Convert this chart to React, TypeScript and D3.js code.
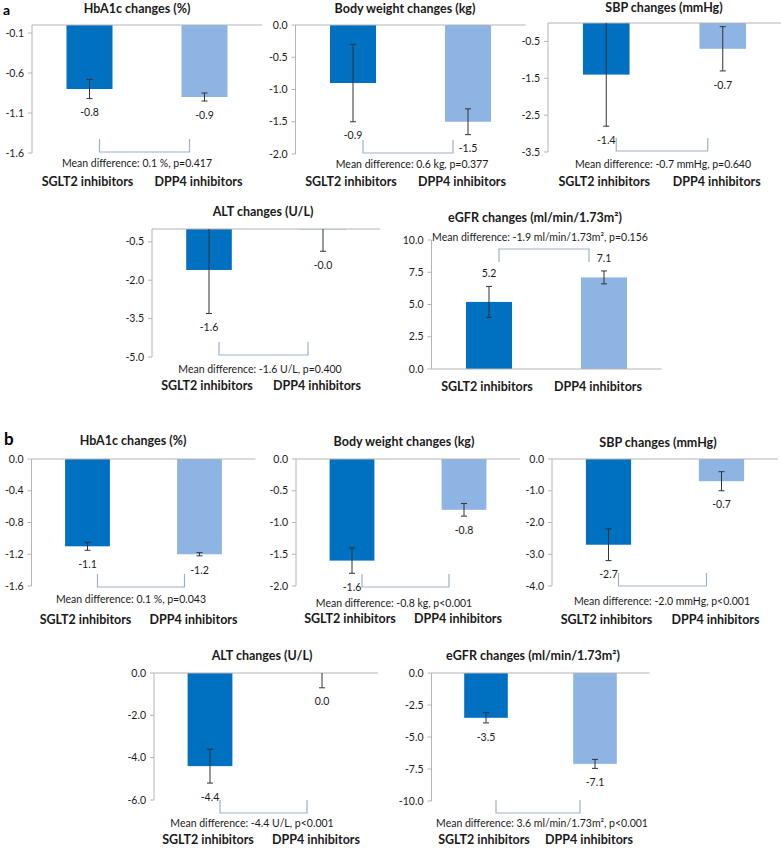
import { useEffect, useRef } from 'react';
import * as d3 from 'd3';

const width = 781;
const height = 849;

// 그룹 / 색상
const groups = ['SGLT2 inhibitors', 'DPP4 inhibitors'];
const colors = ['#0070C0', '#8EB4E3'];

const titles = [
    'HbA1c changes (%)',
    'Body weight changes (kg)',
    'SBP changes (mmHg)',
    'ALT changes (U/L)',
    'eGFR changes (ml/min/1.73m²)'
];

// panel a
const domainsA = [[-1.6, 0], [-2, 0], [-3.5, 0], [-5, 0], [0, 10]];
const ticksA = [
    [-0.1, -0.6, -1.1, -1.6],
    [0, -0.5, -1, -1.5, -2],
    [-0.5, -1.5, -2.5, -3.5],
    [-0.5, -2, -3.5, -5],
    [10, 7.5, 5, 2.5, 0]
];
const meansA = [[-0.8, -0.9], [-0.9, -1.5], [-1.4, -0.7], [-1.6, -0.02], [5.2, 7.1]];
const errorsA = [[0.12, 0.05], [0.6, 0.2], [1.4, 0.6], [1.7, 0.85], [1.2, 0.5]];
const diffsA = [
    'Mean difference: 0.1 %, p=0.417',
    'Mean difference: 0.6 kg, p=0.377',
    'Mean difference: -0.7 mmHg, p=0.640',
    'Mean difference: -1.6 U/L, p=0.400',
    'Mean difference: -1.9 ml/min/1.73m², p=0.156'
];

// panel b
const domainsB = [[-1.6, 0], [-2, 0], [-4, 0], [-6, 0], [-10, 0]];
const ticksB = [
    [0, -0.4, -0.8, -1.2, -1.6],
    [0, -0.5, -1, -1.5, -2],
    [0, -1, -2, -3, -4],
    [0, -2, -4, -6],
    [0, -2.5, -5, -7.5, -10]
];
const meansB = [[-1.1, -1.2], [-1.6, -0.8], [-2.7, -0.7], [-4.4, 0.0], [-3.5, -7.1]];
const errorsB = [[0.05, 0.02], [0.2, 0.1], [0.5, 0.3], [0.8, 0.7], [0.4, 0.35]];
const diffsB = [
    'Mean difference: 0.1 %, p=0.043',
    'Mean difference: -0.8 kg, p<0.001',
    'Mean difference: -2.0 mmHg, p<0.001',
    'Mean difference: -4.4 U/L, p<0.001',
    'Mean difference: 3.6 ml/min/1.73m², p<0.001'
];

// 레이아웃 (픽셀)
type Layout = {
    left: number; width: number; top: number; bottom: number;
    titleX: number; titleY: number; diffX: number; diffY: number; catY: number;
    bracketY: number; bracketDown?: boolean;
};

const layoutA: Layout[] = [
    { left: 32, width: 230, top: 25, bottom: 153, titleX: 137, titleY: 9, diffX: 137, diffY: 163, catY: 182, bracketY: 152 },
    { left: 295.5, width: 230, top: 25, bottom: 154, titleX: 405, titleY: 9, diffX: 412, diffY: 164, catY: 182, bracketY: 153 },
    { left: 548, width: 233, top: 23, bottom: 152, titleX: 664, titleY: 8, diffX: 663, diffY: 164, catY: 182, bracketY: 151 },
    { left: 152, width: 228, top: 229, bottom: 357, titleX: 263, titleY: 212, diffX: 260, diffY: 369, catY: 386, bracketY: 355 },
    { left: 431.5, width: 230, top: 240, bottom: 369, titleX: 535, titleY: 218, diffX: 540, diffY: 237, catY: 387, bracketY: 249, bracketDown: true }
];

const layoutB: Layout[] = [
    { left: 31.5, width: 224, top: 459, bottom: 586, titleX: 133, titleY: 441, diffX: 131, diffY: 599, catY: 620, bracketY: 587 },
    { left: 296, width: 224, top: 459, bottom: 586, titleX: 404, titleY: 442, diffX: 394, diffY: 603, catY: 619, bracketY: 587 },
    { left: 552, width: 226, top: 459, bottom: 586, titleX: 658, titleY: 443, diffX: 662, diffY: 601, catY: 620, bracketY: 586 },
    { left: 154, width: 224, top: 673, bottom: 800, titleX: 262, titleY: 656, diffX: 252, diffY: 823, catY: 840, bracketY: 813 },
    { left: 431.5, width: 218, top: 673, bottom: 801, titleX: 533, titleY: 656, diffX: 542, diffY: 823, catY: 840, bracketY: 813 }
];

const font = 'Lato, "Open Sans", sans-serif';
const axisColor = '#B4B4B4';
const textColor = '#1a1a1a';

function drawPanel(
    svg: d3.Selection<SVGSVGElement, unknown, null, undefined>,
    lay: Layout,
    title: string,
    domain: number[],
    ticks: number[],
    means: number[],
    errs: number[],
    diff: string
) {
    const g = svg.append('g');
    const [dMin, dMax] = domain;

    const x = d3.scaleBand<string>().domain(groups).range([lay.left, lay.left + lay.width]).paddingInner(0.6).paddingOuter(0.3);
    const y = d3.scaleLinear().domain(domain).range([lay.bottom, lay.top]);
    const clamp = (v: number) => Math.max(dMin, Math.min(dMax, v));

    // 제목
    g.append('text')
        .attr('x', lay.titleX)
        .attr('y', lay.titleY)
        .attr('dy', '0.35em')
        .attr('text-anchor', 'middle')
        .attr('font-weight', 'bold')
        .attr('font-size', 12.5)
        .attr('fill', textColor)
        .text(title);

    // 막대
    g.selectAll('rect.bar')
        .data(means)
        .join('rect')
        .attr('class', 'bar')
        .attr('x', (_d, i) => x(groups[i]) as number)
        .attr('width', x.bandwidth())
        .attr('y', (d) => Math.min(y(0), y(d)))
        .attr('height', (d) => Math.abs(y(d) - y(0)))
        .attr('fill', (_d, i) => colors[i]);

    // y축
    g.append('line')
        .attr('x1', lay.left).attr('x2', lay.left)
        .attr('y1', lay.top).attr('y2', lay.bottom)
        .attr('stroke', axisColor);
    g.selectAll('line.tick')
        .data(ticks)
        .join('line')
        .attr('class', 'tick')
        .attr('x1', lay.left - 4).attr('x2', lay.left)
        .attr('y1', (d) => y(d)).attr('y2', (d) => y(d))
        .attr('stroke', axisColor);
    g.selectAll('text.tick')
        .data(ticks)
        .join('text')
        .attr('class', 'tick')
        .attr('x', lay.left - 8)
        .attr('y', (d) => y(d))
        .attr('dy', '0.35em')
        .attr('text-anchor', 'end')
        .attr('font-size', 10.5)
        .attr('fill', textColor)
        .text((d) => d.toFixed(1));

    // x축 (0 라인)
    g.append('line')
        .attr('x1', lay.left).attr('x2', lay.left + lay.width)
        .attr('y1', y(0)).attr('y2', y(0))
        .attr('stroke', axisColor);

    // 에러바
    means.forEach((m, i) => {
        const cx = (x(groups[i]) as number) + x.bandwidth() / 2;
        const lo = m - errs[i];
        const hi = m + errs[i];
        g.append('line')
            .attr('x1', cx).attr('x2', cx)
            .attr('y1', y(clamp(hi))).attr('y2', y(clamp(lo)))
            .attr('stroke', '#333');
        [lo, hi].forEach((v) => {
            if (v >= dMax - 1e-9 || v <= dMin + 1e-9) return;
            g.append('line')
                .attr('x1', cx - 3).attr('x2', cx + 3)
                .attr('y1', y(v)).attr('y2', y(v))
                .attr('stroke', '#333');
        });
        // 값 라벨
        const ly = m > 0 ? y(clamp(hi)) - 13 : y(clamp(lo)) + 14;
        g.append('text')
            .attr('x', cx)
            .attr('y', ly)
            .attr('dy', '0.35em')
            .attr('text-anchor', 'middle')
            .attr('font-size', 10.5)
            .attr('fill', textColor)
            .text(m.toFixed(1));
    });

    // 브래킷
    const c1 = (x(groups[0]) as number) + x.bandwidth() / 2;
    const c2 = (x(groups[1]) as number) + x.bandwidth() / 2;
    const bx1 = c1 + 10;
    const bx2 = c2 - 15;
    const by = lay.bracketY;
    const bh = lay.bracketDown ? 13 : -13;
    g.append('path')
        .attr('d', `M${bx1},${by + bh}V${by}H${bx2}V${by + bh}`)
        .attr('fill', 'none')
        .attr('stroke', '#9DB0C6')
        .attr('stroke-width', 1.2);

    // 평균 차이
    g.append('text')
        .attr('x', lay.diffX)
        .attr('y', lay.diffY)
        .attr('dy', '0.35em')
        .attr('text-anchor', 'middle')
        .attr('font-size', 10.5)
        .attr('fill', textColor)
        .text(diff);

    // 카테고리 라벨
    g.selectAll('text.cat')
        .data(groups)
        .join('text')
        .attr('class', 'cat')
        .attr('x', (d, i) => (x(d) as number) + x.bandwidth() / 2 + (i === 0 ? -2 : -6))
        .attr('y', lay.catY)
        .attr('dy', '0.35em')
        .attr('text-anchor', 'middle')
        .attr('font-weight', 'bold')
        .attr('font-size', 12.5)
        .attr('fill', textColor)
        .text((d) => d);
}

export default function App() {
    const ref = useRef<SVGSVGElement>(null);

    useEffect(() => {
        document.body.style.margin = '0';
        const svg = d3.select(ref.current as SVGSVGElement);
        svg.selectAll('*').remove();

        svg.append('rect').attr('width', width).attr('height', height).attr('fill', '#fff');

        titles.forEach((t, i) => {
            drawPanel(svg, layoutA[i], t, domainsA[i], ticksA[i], meansA[i], errorsA[i], diffsA[i]);
            drawPanel(svg, layoutB[i], t, domainsB[i], ticksB[i], meansB[i], errorsB[i], diffsB[i]);
        });

        // 패널 라벨
        svg.append('text').attr('x', 3).attr('y', 15).attr('font-weight', 'bold').attr('font-size', 14).attr('fill', '#000').text('a');
        svg.append('text').attr('x', 4).attr('y', 445).attr('font-weight', 'bold').attr('font-size', 17).attr('fill', '#000').text('b');
    }, []);

    return <svg ref={ref} width={width} height={height} style={{ display: 'block', fontFamily: font }} />;
}
